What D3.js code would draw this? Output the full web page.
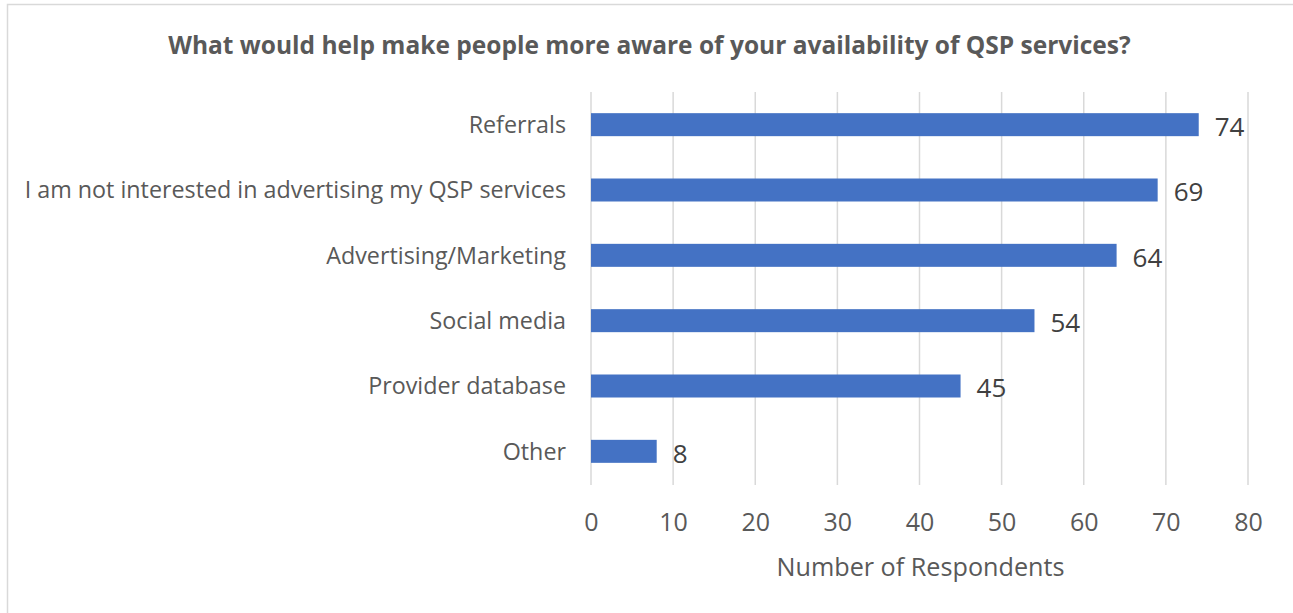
<!DOCTYPE html>
<html>
<head>
<meta charset="utf-8">
<script src="https://cdn.jsdelivr.net/npm/d3@7"></script>
<style>
  html, body { margin: 0; padding: 0; background: #fff; }
  svg { display: block; font-family: "Open Sans", sans-serif; }
</style>
</head>
<body>
<svg id="chart" width="1293" height="613"></svg>
<script>
const categories = ["Referrals", "I am not interested in advertising my QSP services", "Advertising/Marketing", "Social media", "Provider database", "Other"];
const values = [74, 69, 64, 54, 45, 8];
const xTicks = [0, 10, 20, 30, 40, 50, 60, 70, 80];
const titleText = "What would help make people more aware of your availability of QSP services?";
const xAxisTitle = "Number of Respondents";

const svg = d3.select("#chart");

// chart border (top & left visible)
svg.append("rect").attr("x", 7.5).attr("y", 4.5).attr("width", 1300).attr("height", 700)
  .attr("fill", "none").attr("stroke", "#d9d9d9").attr("stroke-width", 1.5);

const x = d3.scaleLinear().domain([0, 80]).range([591, 1248]);
const y = d3.scaleBand().domain(categories).range([92, 484]).paddingInner(0.648).paddingOuter(0.324);

// gridlines
svg.append("g").selectAll("line").data(xTicks).join("line")
  .attr("x1", d => x(d)).attr("x2", d => x(d))
  .attr("y1", 92).attr("y2", 485)
  .attr("stroke", "#d9d9d9").attr("stroke-width", 1.5);

// bars
svg.append("g").selectAll("rect").data(values).join("rect")
  .attr("x", x(0)).attr("y", (d, i) => y(categories[i]))
  .attr("width", d => x(d) - x(0)).attr("height", y.bandwidth())
  .attr("fill", "#4472C4");

// data labels
svg.append("g").selectAll("text").data(values).join("text")
  .attr("x", d => x(d) + 16).attr("y", (d, i) => y(categories[i]) + y.bandwidth() / 2 + 2)
  .attr("dy", "0.36em").attr("font-size", 26).attr("fill", "#404040")
  .text(d => d);

// category labels
const yAxis = d3.axisLeft(y).tickSize(0).tickPadding(25);
const gy = svg.append("g").attr("transform", `translate(${x(0)},1)`).call(yAxis);
gy.select(".domain").remove();
gy.selectAll("text").attr("font-size", 23.3).attr("fill", "#595959").attr("font-family", "Open Sans, sans-serif");

// x axis tick labels
const xAxis = d3.axisBottom(x).tickValues(xTicks).tickSize(0).tickPadding(28);
const gx = svg.append("g").attr("transform", `translate(0,485)`).call(xAxis);
gx.select(".domain").remove();
gx.selectAll("text").attr("font-size", 25).attr("fill", "#595959").attr("font-family", "Open Sans, sans-serif");

// axis title
svg.append("text").attr("x", x(40) + 1).attr("y", 567).attr("dy", "0.36em")
  .attr("text-anchor", "middle").attr("font-size", 25.2).attr("fill", "#595959")
  .text(xAxisTitle);

// chart title
svg.append("text").attr("x", 649.5).attr("y", 45).attr("dy", "0.36em")
  .attr("text-anchor", "middle").attr("font-size", 24.5).attr("font-weight", "bold").attr("fill", "#595959")
  .text(titleText);
</script>
</body>
</html>
